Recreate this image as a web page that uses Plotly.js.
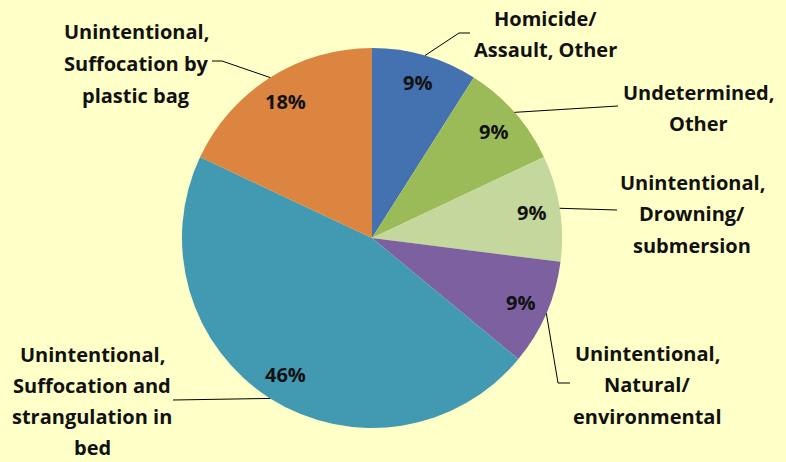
<!DOCTYPE html>
<html>
<head>
<meta charset="utf-8">
<script src="https://cdn.plot.ly/plotly-3.0.1.min.js"></script>
<style>html,body{margin:0;padding:0;background:#FFFFC8;}</style>
</head>
<body>
<div id="chart" style="width:786px;height:462px;"></div>
<script>
// ---- data ----
var categories = [
  "Homicide/<br>Assault, Other",
  "Undetermined,<br>Other",
  "Unintentional,<br>Drowning/<br>submersion",
  "Unintentional,<br>Natural/<br>environmental",
  "Unintentional,<br>Suffocation and<br>strangulation in<br>bed",
  "Unintentional,<br>Suffocation by<br>plastic bag"
];
var percents = [9, 9, 9, 9, 46, 18];
var sliceColors = ["#4472B0", "#9BBB59", "#C4D79C", "#7D60A0", "#4299B2", "#DB8540"];

// ---- layout helpers (pixel geometry of the figure) ----
var W = 786, H = 462;
var CX = 372, CY = 238, R = 190;
function px(x) { return x / W; }
function py(y) { return 1 - y / H; }

// label placement: center x, first line y, line gap, leader elbow points (pixels)
var labelPlace = [
  {cx: 545, y0: 18,  gap: 31.7, pts: [[459, 33], [470, 33]]},
  {cx: 698, y0: 92,  gap: 31.7, pts: [[618, 106]]},
  {cx: 692, y0: 182, gap: 31.7, pts: [[617, 210]]},
  {cx: 647, y0: 353, gap: 31.7, pts: [[558, 383], [570, 383]]},
  {cx: 92,  y0: 354, gap: 31.0, pts: [[173, 400]]},
  {cx: 136, y0: 32,  gap: 31.7, pts: [[222, 61], [212, 61]]}
];
var FONT = {family: "'Open Sans', Lato, sans-serif", size: 20, color: "#111111", weight: 700};

var total = percents.reduce(function (a, b) { return a + b; }, 0);
var annotations = [], shapes = [];
var cum = 0;
percents.forEach(function (v, i) {
  var mid = (cum + v / 2) / total * 2 * Math.PI; // clockwise from 12 o'clock
  cum += v;
  var sx = Math.sin(mid), sy = -Math.cos(mid);
  // percentage text
  annotations.push({
    x: px(CX + 0.85 * R * sx), y: py(CY + 0.85 * R * sy), xref: "paper", yref: "paper",
    text: "<b>" + v + "%</b>", showarrow: false, xanchor: "center", yanchor: "middle",
    font: FONT
  });
  // category label lines
  var lines = categories[i].split("<br>");
  var lp = labelPlace[i];
  lines.forEach(function (t, k) {
    annotations.push({
      x: px(lp.cx), y: py(lp.y0 + k * lp.gap), xref: "paper", yref: "paper",
      text: "<b>" + t + "</b>", showarrow: false, xanchor: "center", yanchor: "middle",
      font: FONT
    });
  });
  // leader line from slice edge
  var path = "M " + px(CX + R * sx) + "," + py(CY + R * sy);
  lp.pts.forEach(function (p) { path += " L " + px(p[0]) + "," + py(p[1]); });
  shapes.push({type: "path", xref: "paper", yref: "paper", path: path,
    line: {color: "#000000", width: 1}});
});

var trace = {
  type: "pie",
  values: percents,
  labels: categories,
  marker: {colors: sliceColors, line: {width: 0}},
  sort: false,
  direction: "clockwise",
  rotation: 0,
  textinfo: "none",
  hoverinfo: "label+percent",
  showlegend: false,
  domain: {x: [(CX - R) / W, (CX + R) / W], y: [1 - (CY + R) / H, 1 - (CY - R) / H]}
};

var layout = {
  width: W, height: H,
  margin: {l: 0, r: 0, t: 0, b: 0},
  paper_bgcolor: "#FFFFC8",
  plot_bgcolor: "#FFFFC8",
  showlegend: false,
  annotations: annotations,
  shapes: shapes
};

Plotly.newPlot("chart", [trace], layout, {displayModeBar: false, staticPlot: true});
</script>
</body>
</html>
